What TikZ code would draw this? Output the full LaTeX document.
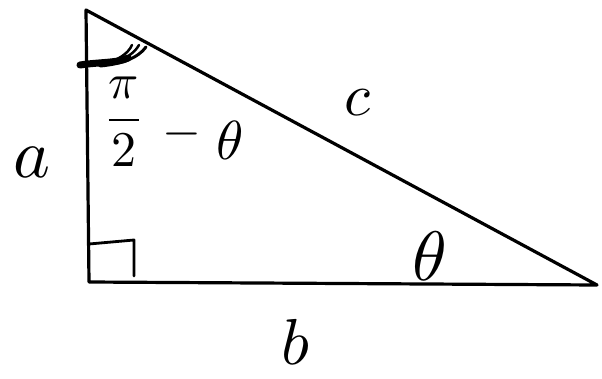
\documentclass[tikz,border=0pt]{standalone}
\begin{document}
\begin{tikzpicture}[x=1pt,y=-1pt,
  edge/.style={line width=3.2pt,line join=round,line cap=round},
  lbl/.style={inner sep=0pt}]
\useasboundingbox (0,0) rectangle (602,378);
\coordinate (A) at (86,10);
\coordinate (B) at (89,282);
\coordinate (C) at (597,285);
\draw[edge] (A) -- (B) -- (C) -- cycle;
% right angle marker
\coordinate (R1) at (89,244);
\coordinate (R2) at (134,240);
\coordinate (R3) at (134,276);
\draw[edge,line width=2.8pt] (R1) -- (R2) -- (R3);
% angle arcs at top vertex
\draw[edge,line width=7pt] (80,65) .. controls (100,62) and (118,63) .. (128,58);
\draw[edge,line width=3pt] (100,66) .. controls (122,64) and (138,58) .. (146,47);
\draw[edge,line width=2.5pt] (108,64) .. controls (124,60) and (134,54) .. (139,45);
\draw[edge,line width=2.5pt] (102,65) .. controls (118,60) and (128,54) .. (132,45);
% labels
\node[lbl] (la) at (32,162) {\scalebox{7}{$a$}};
\node[lbl] (lb) at (295,342) {\scalebox{6.5}{$b$}};
\node[lbl] (lc) at (357,103) {\scalebox{6}{$c$}};
\node[lbl] (lt) at (430,256) {\scalebox{7}{$\theta$}};
\node[lbl] (lf) at (124,122) {\scalebox{5}{$\displaystyle\frac{\pi}{2}$}};
\node[lbl] (lm) at (182,134) {\scalebox{5}{$-$}};
\node[lbl] (lq) at (230,140) {\scalebox{5.5}{$\theta$}};
\end{tikzpicture}
\end{document}
